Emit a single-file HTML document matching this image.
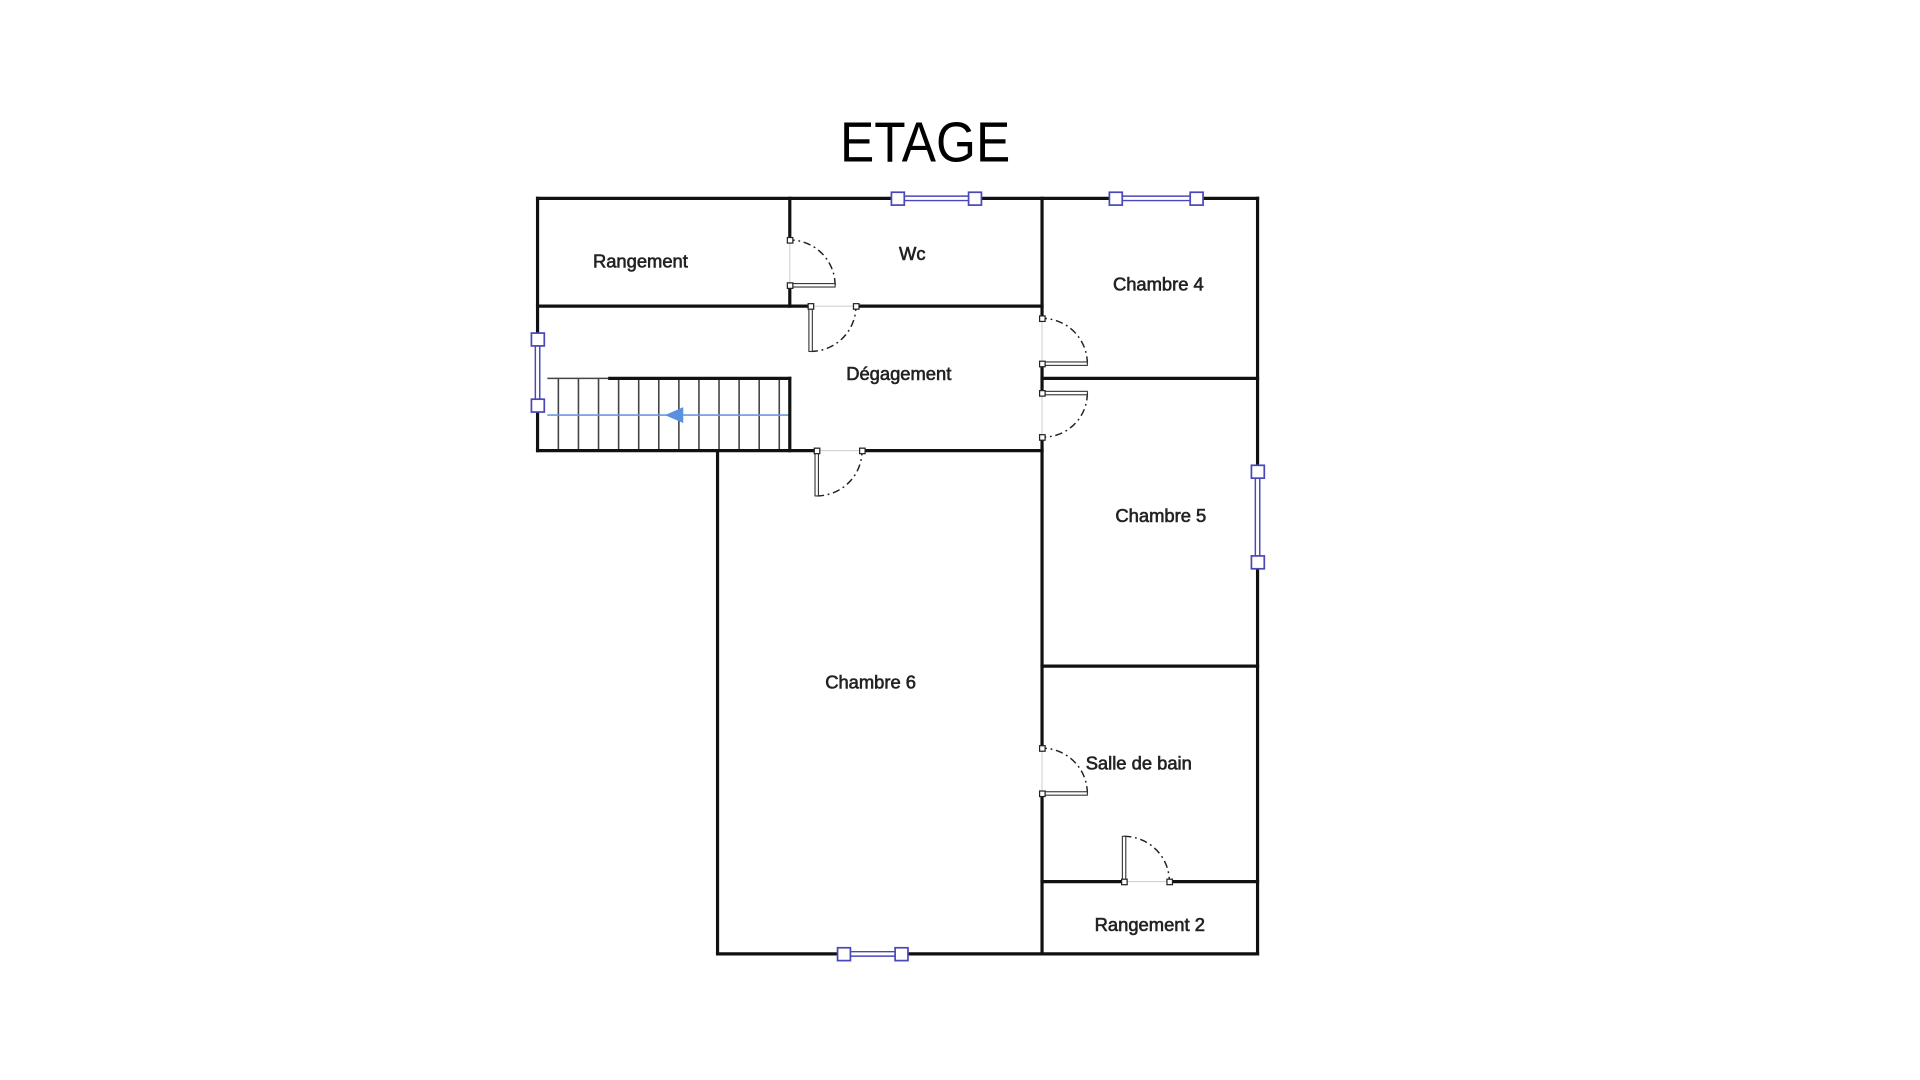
<!DOCTYPE html>
<html><head><meta charset="utf-8"><style>
html,body{margin:0;padding:0;background:#fff;}
svg{display:block;}
.w{stroke:#111;stroke-width:2.6;fill:none;stroke-linecap:square;}
.l{font-family:"Liberation Sans",sans-serif;font-size:15px;fill:#222;stroke:#222;stroke-width:0.5;text-anchor:middle;dominant-baseline:central;}
.sq{fill:#fff;stroke:#222;stroke-width:1;}
.op{stroke:#ccc;stroke-width:0.8;}
.arc{fill:none;stroke:#222;stroke-width:1.2;stroke-dasharray:6,3,1.5,3;}
.leaf{fill:#fff;stroke:#333;stroke-width:0.9;}
.ws{fill:#fff;stroke:#4a48b8;stroke-width:1.4;}
.wl{stroke:#4a48b8;stroke-width:1.2;}
.tr{stroke:#444;stroke-width:1.3;}
</style></head><body>
<svg width="1920" height="1080" viewBox="0 0 1568 882" preserveAspectRatio="none" xmlns="http://www.w3.org/2000/svg">
<text x="755.5" y="132" font-family="Liberation Sans, sans-serif" font-size="46" textLength="139" lengthAdjust="spacingAndGlyphs" text-anchor="middle" fill="#000">ETAGE</text>

<g>
<line class="tr" x1="447" y1="309" x2="498" y2="309"/>
<line class="tr" x1="456" y1="309" x2="456" y2="368"/>
<line class="tr" x1="472.4" y1="309" x2="472.4" y2="368"/>
<line class="tr" x1="488.8" y1="309" x2="488.8" y2="368"/>
<line class="tr" x1="505.2" y1="309" x2="505.2" y2="368"/>
<line class="tr" x1="521.6" y1="309" x2="521.6" y2="368"/>
<line class="tr" x1="538" y1="309" x2="538" y2="368"/>
<line class="tr" x1="554.4" y1="309" x2="554.4" y2="368"/>
<line class="tr" x1="570.8" y1="309" x2="570.8" y2="368"/>
<line class="tr" x1="587.2" y1="309" x2="587.2" y2="368"/>
<line class="tr" x1="603.6" y1="309" x2="603.6" y2="368"/>
<line class="tr" x1="620" y1="309" x2="620" y2="368"/>
<line class="tr" x1="636.4" y1="309" x2="636.4" y2="368"/>
<line x1="447" y1="339" x2="645" y2="339" stroke="#6a9ae0" stroke-width="1.3"/>
<polygon points="543,339 558,332.5 558,345.5" fill="#5b8fe0"/>
</g>

<g class="w">
<line x1="439" y1="162" x2="733" y2="162"/><line x1="796" y1="162" x2="911" y2="162"/><line x1="977" y1="162" x2="1027" y2="162"/>
<line x1="439" y1="162" x2="439" y2="277"/><line x1="439" y1="331" x2="439" y2="368"/>
<line x1="1027" y1="162" x2="1027" y2="385"/><line x1="1027" y1="459" x2="1027" y2="779"/>
<line x1="586" y1="779" x2="689" y2="779"/><line x1="736" y1="779" x2="1027" y2="779"/>
<line x1="439" y1="250" x2="662" y2="250"/><line x1="699" y1="250" x2="851" y2="250"/>
<line x1="645" y1="162" x2="645" y2="196"/><line x1="645" y1="233" x2="645" y2="250"/>
<line x1="851" y1="162" x2="851" y2="260"/><line x1="851" y1="297" x2="851" y2="321"/><line x1="851" y1="357" x2="851" y2="611"/><line x1="851" y1="648" x2="851" y2="779"/>
<line x1="851" y1="309" x2="1027" y2="309"/>
<line x1="439" y1="368" x2="667" y2="368"/><line x1="704" y1="368" x2="851" y2="368"/>
<line x1="851" y1="544" x2="1027" y2="544"/>
<line x1="851" y1="720" x2="918" y2="720"/><line x1="955" y1="720" x2="1027" y2="720"/>
<line x1="586" y1="368" x2="586" y2="779"/>
<line x1="498" y1="309" x2="645" y2="309"/><line x1="645" y1="309" x2="645" y2="368"/>
</g>

<g>
<line class="op" x1="645" y1="196" x2="645" y2="233"/>
<path class="arc" d="M682,233 A37,37 0 0,0 645,196"/>
<rect class="leaf" x="645" y="231.6" width="37" height="2.8"/>
<rect class="sq" x="643" y="194" width="4.5" height="4.5"/><rect class="sq" x="643" y="231" width="4.5" height="4.5"/>

<line class="op" x1="662" y1="250" x2="699" y2="250"/>
<path class="arc" d="M662,287 A37,37 0 0,0 699,250"/>
<rect class="leaf" x="660.6" y="250" width="2.8" height="37"/>
<rect class="sq" x="660" y="248" width="4.5" height="4.5"/><rect class="sq" x="697" y="248" width="4.5" height="4.5"/>

<line class="op" x1="851" y1="260" x2="851" y2="297"/>
<path class="arc" d="M888,297 A37,37 0 0,0 851,260"/>
<rect class="leaf" x="851" y="295.6" width="37" height="2.8"/>
<rect class="sq" x="849" y="258" width="4.5" height="4.5"/><rect class="sq" x="849" y="295" width="4.5" height="4.5"/>

<line class="op" x1="851" y1="321" x2="851" y2="357"/>
<path class="arc" d="M888,321 A36,36 0 0,1 851,357"/>
<rect class="leaf" x="851" y="319.6" width="37" height="2.8"/>
<rect class="sq" x="849" y="319" width="4.5" height="4.5"/><rect class="sq" x="849" y="355" width="4.5" height="4.5"/>

<line class="op" x1="667" y1="368" x2="704" y2="368"/>
<path class="arc" d="M667,405 A37,37 0 0,0 704,368"/>
<rect class="leaf" x="665.6" y="368" width="2.8" height="37"/>
<rect class="sq" x="665" y="366" width="4.5" height="4.5"/><rect class="sq" x="702" y="366" width="4.5" height="4.5"/>

<line class="op" x1="851" y1="611" x2="851" y2="648"/>
<path class="arc" d="M888,648 A37,37 0 0,0 851,611"/>
<rect class="leaf" x="851" y="646.6" width="37" height="2.8"/>
<rect class="sq" x="849" y="609" width="4.5" height="4.5"/><rect class="sq" x="849" y="646" width="4.5" height="4.5"/>

<line class="op" x1="918" y1="720" x2="955" y2="720"/>
<path class="arc" d="M918,683 A37,37 0 0,1 955,720"/>
<rect class="leaf" x="916.6" y="683" width="2.8" height="37"/>
<rect class="sq" x="916" y="718" width="4.5" height="4.5"/><rect class="sq" x="953" y="718" width="4.5" height="4.5"/>
</g>

<g>
<line class="wl" x1="733" y1="160.2" x2="796" y2="160.2"/><line class="wl" x1="733" y1="163.8" x2="796" y2="163.8"/>
<rect class="ws" x="728" y="157" width="10.5" height="10.5"/><rect class="ws" x="791" y="157" width="10.5" height="10.5"/>
<line class="wl" x1="911" y1="160.2" x2="977" y2="160.2"/><line class="wl" x1="911" y1="163.8" x2="977" y2="163.8"/>
<rect class="ws" x="906" y="157" width="10.5" height="10.5"/><rect class="ws" x="972" y="157" width="10.5" height="10.5"/>
<line class="wl" x1="437.2" y1="277" x2="437.2" y2="331"/><line class="wl" x1="440.8" y1="277" x2="440.8" y2="331"/>
<rect class="ws" x="434" y="272" width="10.5" height="10.5"/><rect class="ws" x="434" y="326" width="10.5" height="10.5"/>
<line class="wl" x1="1025.2" y1="385" x2="1025.2" y2="459"/><line class="wl" x1="1028.8" y1="385" x2="1028.8" y2="459"/>
<rect class="ws" x="1022" y="380" width="10.5" height="10.5"/><rect class="ws" x="1022" y="454" width="10.5" height="10.5"/>
<line class="wl" x1="689" y1="777.2" x2="736" y2="777.2"/><line class="wl" x1="689" y1="780.8" x2="736" y2="780.8"/>
<rect class="ws" x="684" y="774" width="10.5" height="10.5"/><rect class="ws" x="731" y="774" width="10.5" height="10.5"/>
</g>

<text class="l" x="523" y="213">Rangement</text>
<text class="l" x="745" y="207">Wc</text>
<text class="l" x="946" y="232">Chambre 4</text>
<text class="l" x="734" y="305">Dégagement</text>
<text class="l" x="948" y="421">Chambre 5</text>
<text class="l" x="711" y="557">Chambre 6</text>
<text class="l" x="930" y="623">Salle de bain</text>
<text class="l" x="939" y="755">Rangement 2</text>
</svg>
</body></html>
